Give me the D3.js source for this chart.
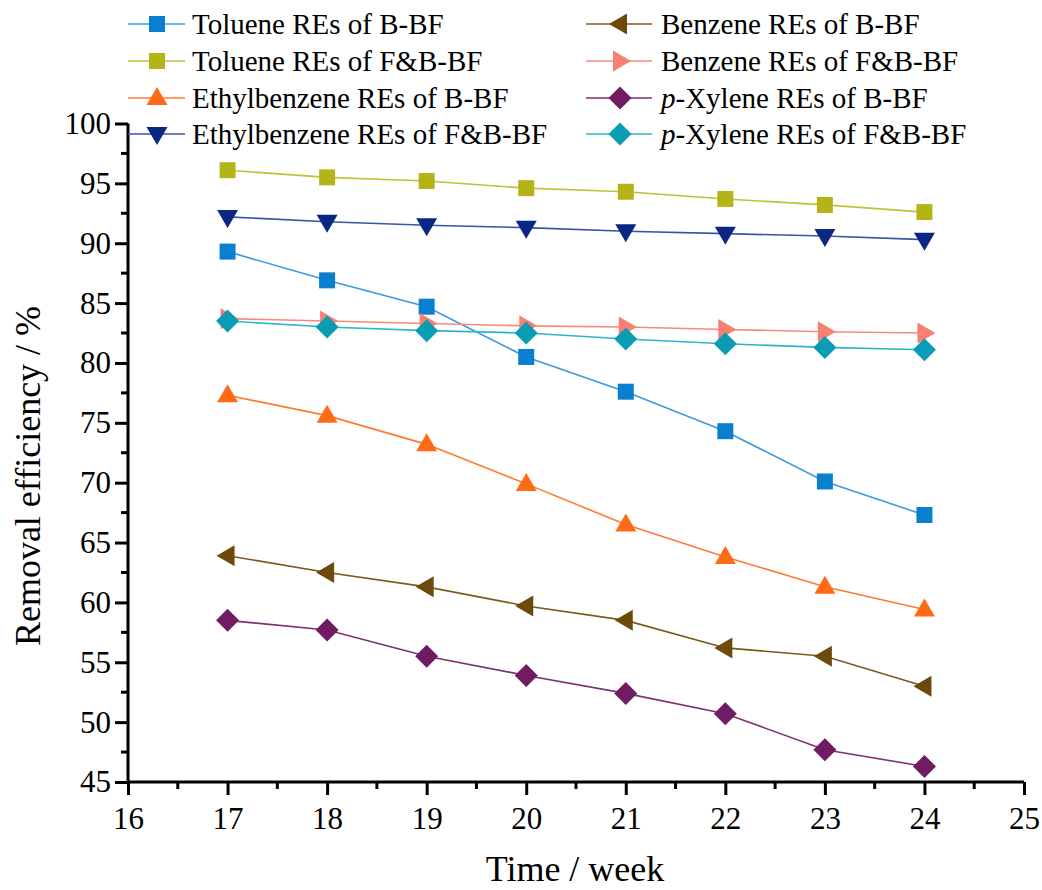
<!DOCTYPE html>
<html>
<head>
<meta charset="utf-8">
<script src="https://cdn.jsdelivr.net/npm/d3@7"></script>
<style>
  html, body { margin: 0; padding: 0; background: #fff; }
  svg { display: block; }
  svg text { font-family: "Liberation Serif", "Times New Roman", serif; }
</style>
</head>
<body>
<svg id="chart" width="1042" height="890"></svg>
<script>
// Weeks of operation
const weeks = [17, 18, 19, 20, 21, 22, 23, 24];

// Removal efficiencies (%) per compound and biofilter
const tolueneB   = [89.3, 86.9, 84.7, 80.5, 77.6, 74.3, 70.1, 67.3];
const tolueneFB  = [96.1, 95.5, 95.2, 94.6, 94.3, 93.7, 93.2, 92.6];
const ethylB     = [77.3, 75.6, 73.2, 69.9, 66.5, 63.8, 61.3, 59.4];
const ethylFB    = [92.2, 91.8, 91.5, 91.3, 91.0, 90.8, 90.6, 90.3];
const benzeneB   = [63.9, 62.5, 61.3, 59.7, 58.5, 56.2, 55.5, 53.0];
const benzeneFB  = [83.7, 83.5, 83.3, 83.1, 83.0, 82.8, 82.6, 82.5];
const xyleneB    = [58.5, 57.7, 55.5, 53.9, 52.4, 50.7, 47.7, 46.3];
const xyleneFB   = [83.5, 83.0, 82.7, 82.5, 82.0, 81.6, 81.3, 81.1];

const xTicks = [16, 17, 18, 19, 20, 21, 22, 23, 24, 25];
const yTicks = [45, 50, 55, 60, 65, 70, 75, 80, 85, 90, 95, 100];

const series = [
  { name: "Toluene REs of B-BF",        italic: null, values: tolueneB,  color: "#0a7fcf", line: "#3b9be0", shape: "square" },
  { name: "Toluene REs of F&B-BF",      italic: null, values: tolueneFB, color: "#b4b418", line: "#c2c23a", shape: "square" },
  { name: "Ethylbenzene REs of B-BF",   italic: null, values: ethylB,    color: "#ff6a16", line: "#ff7a30", shape: "triUp" },
  { name: "Ethylbenzene REs of F&B-BF", italic: null, values: ethylFB,   color: "#0a2784", line: "#3a54a0", shape: "triDown" },
  { name: "Benzene REs of B-BF",        italic: null, values: benzeneB,  color: "#6b4a0c", line: "#7a5a1c", shape: "triLeft" },
  { name: "Benzene REs of F&B-BF",      italic: null, values: benzeneFB, color: "#f88070", line: "#f88a7a", shape: "triRight" },
  { name: "-Xylene REs of B-BF",        italic: "p", values: xyleneB,   color: "#701c62", line: "#7e3070", shape: "diamond" },
  { name: "-Xylene REs of F&B-BF",      italic: "p", values: xyleneFB,  color: "#0a9cb2", line: "#30b4c8", shape: "diamond" }
];

const svg = d3.select("#chart");
const plot = { left: 128, right: 1024, top: 123.5, bottom: 782 };
const serif = '"Liberation Serif", "Times New Roman", serif';

const x = d3.scaleLinear().domain([16, 25]).range([plot.left, plot.right]);
const y = d3.scaleLinear().domain([45, 100]).range([plot.bottom, plot.top]);

// Marker path generator centred at (0,0)
function markerPath(shape) {
  switch (shape) {
    case "square":   return "M-8,-8H8V8H-8Z";
    case "triUp":    return "M0,-11L10.5,7L-10.5,7Z";
    case "triDown":  return "M0,11L10.5,-7L-10.5,-7Z";
    case "triLeft":  return "M-11,0L7,-10.5L7,10.5Z";
    case "triRight": return "M11,0L-7,-10.5L-7,10.5Z";
    case "diamond":  return "M0,-11.5L11.5,0L0,11.5L-11.5,0Z";
  }
}

// Axes
const axisFont = 31;
const xAxis = d3.axisBottom(x).tickValues(xTicks).tickFormat(d3.format("d")).tickSize(13).tickPadding(12);
const yAxis = d3.axisLeft(y).tickValues(yTicks).tickFormat(d3.format("d")).tickSize(13).tickPadding(4);

const gx = svg.append("g").attr("transform", `translate(0,${plot.bottom})`).call(xAxis);
const gy = svg.append("g").attr("transform", `translate(${plot.left},0)`).call(yAxis);

[gx, gy].forEach(g => {
  g.style("font-family", serif).attr("font-family", null).attr("font-size", axisFont);
  g.select(".domain").attr("stroke", "#000").attr("stroke-width", 3);
  g.selectAll(".tick line").attr("stroke", "#000").attr("stroke-width", 3);
  g.selectAll(".tick text").attr("fill", "#000")
    .style("font-family", serif).style("font-size", axisFont + "px");
});
gx.select(".domain").attr("d", `M${plot.left},0H${plot.right}`);
gy.select(".domain").attr("d", `M0,${plot.bottom}V${plot.top}`);

// Minor ticks halfway between majors
const xMinor = d3.range(16.5, 25, 1);
const yMinor = d3.range(47.5, 100, 5);
svg.append("g").selectAll("line").data(xMinor).join("line")
  .attr("x1", d => x(d)).attr("x2", d => x(d))
  .attr("y1", plot.bottom).attr("y2", plot.bottom + 7)
  .attr("stroke", "#000").attr("stroke-width", 3);
svg.append("g").selectAll("line").data(yMinor).join("line")
  .attr("y1", d => y(d)).attr("y2", d => y(d))
  .attr("x1", plot.left).attr("x2", plot.left - 7)
  .attr("stroke", "#000").attr("stroke-width", 3);

// Axis titles
svg.append("text")
  .attr("x", 575).attr("y", 881)
  .attr("text-anchor", "middle").style("font-size", "36px").attr("fill", "#000")
  .text("Time / week");
svg.append("text")
  .attr("transform", `translate(40,476) rotate(-90)`)
  .attr("text-anchor", "middle").style("font-size", "36px").attr("fill", "#000")
  .text("Removal efficiency / %");

// Series lines and markers
const line = d3.line().x((d, i) => x(weeks[i])).y(d => y(d));
const plotOrder = [4, 6, 2, 0, 5, 7, 3, 1];
plotOrder.forEach(k => {
  const s = series[k];
  const g = svg.append("g");
  g.append("path").datum(s.values).attr("d", line)
    .attr("fill", "none").attr("stroke", s.line).attr("stroke-width", 1.6);
  g.selectAll("path.m").data(s.values).join("path").attr("class", "m")
    .attr("d", markerPath(s.shape))
    .attr("transform", (d, i) => `translate(${x(weeks[i])},${y(d)})`)
    .attr("fill", s.color);
});

// Legend in two columns of four rows
const legendRows = [24, 61, 98, 134];
const legendCols = [
  { lineX1: 128, lineX2: 185, markX: 157, textX: 192 },
  { lineX1: 586, lineX2: 652, markX: 620, textX: 661 }
];
series.forEach((s, i) => {
  const col = legendCols[Math.floor(i / 4)];
  const ry = legendRows[i % 4];
  const g = svg.append("g");
  g.append("line").attr("x1", col.lineX1).attr("x2", col.lineX2)
    .attr("y1", ry).attr("y2", ry).attr("stroke", s.line).attr("stroke-width", 1.6);
  g.append("path").attr("d", markerPath(s.shape))
    .attr("transform", `translate(${col.markX},${ry})`).attr("fill", s.color);
  const t = g.append("text").attr("x", col.textX).attr("y", ry + 10)
    .style("font-size", "29px").attr("fill", "#000");
  if (s.italic) t.append("tspan").attr("font-style", "italic").text(s.italic);
  t.append("tspan").text(s.name);
});
</script>
</body>
</html>
